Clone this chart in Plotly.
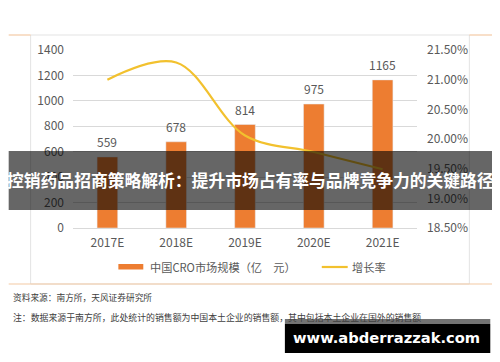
import plotly.graph_objects as go

categories = ["2017E", "2018E", "2019E", "2020E", "2021E"]
market_size = [559, 678, 814, 975, 1165]
growth_rate = [0.2100, 0.2129, 0.2006, 0.1978, 0.1949]
left_ticks = [0, 200, 400, 600, 800, 1000, 1200, 1400]
right_ticks = [0.185, 0.19, 0.195, 0.20, 0.205, 0.21, 0.215]

bar_name = "中国CRO市场规模（亿　元）"
line_name = "增长率"
title_text = "控销药品招商策略解析：提升市场占有率与品牌竞争力的关键路径"
source_text = "资料来源：南方所，天风证券研究所"
note_text = "注：数据来源于南方所，此处统计的销售额为中国本土企业的销售额，其中包括本土企业在国外的销售额"
watermark = "www.abderrazzak.com"

# page is rendered with an 8px body margin
OFF = 8
W, H = 500 - OFF, 362 - OFF
L, R, T, B = 72.5, 417.5, 50, 228   # plot area in page pixels
CJK = "Noto Sans CJK SC, Noto Sans, sans-serif"
ORANGE = "#ED7D31"
GOLD = "#F2C12E"
GRAY_TXT = "#595959"


def px(x):
    return (x - L) / (R - L)


def py(y):
    return (B - y) / (B - T)


fig = go.Figure()
fig.add_trace(go.Bar(x=categories, y=market_size, marker_color=ORANGE,
                     name=bar_name, showlegend=False))
fig.add_trace(go.Scatter(x=categories, y=growth_rate, yaxis="y2", mode="lines",
                         line=dict(color=GOLD, width=2.2, shape="spline", smoothing=1.0),
                         name=line_name, showlegend=False))

annotations = []
for c, v in zip(categories, market_size):
    annotations.append(dict(x=c, y=v, xref="x", yref="y", text=str(v), showarrow=False,
                            yanchor="bottom", yshift=5,
                            font=dict(family=CJK, size=12, color=GRAY_TXT)))

shapes = []
# frame
shapes.append(dict(type="rect", xref="paper", yref="paper", x0=px(30), x1=px(470), y0=py(35), y1=py(284),
                   line=dict(color="#E3E3E3", width=1), layer="below"))
for (x0, x1, y) in [(8, 30, 35), (470, 497, 35), (8, 497, 284)]:
    shapes.append(dict(type="line", xref="paper", yref="paper", x0=px(x0), x1=px(x1), y0=py(y), y1=py(y),
                       line=dict(color="#F3C9A4", width=1.2)))
# legend swatches
shapes.append(dict(type="rect", xref="paper", yref="paper", x0=px(118), x1=px(143), y0=py(264), y1=py(269.5),
                   fillcolor=ORANGE, line=dict(width=0)))
shapes.append(dict(type="line", xref="paper", yref="paper", x0=px(322), x1=px(348), y0=py(267), y1=py(267),
                   line=dict(color=GOLD, width=2.2)))
# title banner
shapes.append(dict(type="rect", xref="paper", yref="paper", x0=px(8), x1=px(497), y0=py(151), y1=py(210),
                   fillcolor="rgba(0,0,0,0.6)", line=dict(width=0), layer="above"))
# watermark box
shapes.append(dict(type="rect", xref="paper", yref="paper", x0=px(285), x1=px(491), y0=py(319), y1=py(324),
                   fillcolor="rgba(0,0,0,0.55)", line=dict(width=0), layer="above"))
shapes.append(dict(type="rect", xref="paper", yref="paper", x0=px(285), x1=px(491), y0=py(324), y1=py(353),
                   fillcolor="#000000", line=dict(width=0), layer="above"))

annotations += [
    dict(x=px(148), y=py(267), xref="paper", yref="paper", text=bar_name, showarrow=False,
         xanchor="left", yanchor="middle", font=dict(family=CJK, size=11.2, color=GRAY_TXT)),
    dict(x=px(350), y=py(267), xref="paper", yref="paper", text=line_name, showarrow=False,
         xanchor="left", yanchor="middle", font=dict(family=CJK, size=11.2, color=GRAY_TXT)),
    dict(x=px(10), y=py(297), xref="paper", yref="paper", text=source_text, showarrow=False,
         xanchor="left", yanchor="middle", font=dict(family=CJK, size=8.7, color="#404040")),
    dict(x=px(10), y=py(317), xref="paper", yref="paper", text=note_text, showarrow=False,
         xanchor="left", yanchor="middle", font=dict(family=CJK, size=8.9, color="#404040")),
    dict(x=px(251), y=py(180), xref="paper", yref="paper", text="<b>" + title_text + "</b>", showarrow=False,
         xanchor="center", yanchor="middle", font=dict(family=CJK, size=16.8, color="#FFFFFF")),
    dict(x=px(387), y=py(337), xref="paper", yref="paper", text="<b>" + watermark + "</b>", showarrow=False,
         xanchor="center", yanchor="middle", font=dict(family="DejaVu Sans, sans-serif", size=14.7, color="#FFFFFF")),
]

fig.update_layout(
    width=W, height=H,
    margin=dict(l=L - OFF, r=500 - R, t=T - OFF, b=362 - B, pad=0),
    paper_bgcolor="white", plot_bgcolor="white",
    bargap=0.7,
    showlegend=False,
    font=dict(family=CJK, size=12, color=GRAY_TXT),
    xaxis=dict(type="category", showgrid=False, showline=False, zeroline=False, ticks="",
               ticklabelstandoff=6, tickfont=dict(size=12, color=GRAY_TXT)),
    yaxis=dict(range=[0, 1400], tickvals=left_ticks, showgrid=True, gridcolor="#D9D9D9", gridwidth=1,
               zeroline=True, zerolinecolor="#D9D9D9", zerolinewidth=1, showline=False, ticks="",
               ticklabelstandoff=8, tickfont=dict(size=12, color=GRAY_TXT)),
    yaxis2=dict(range=[0.185, 0.215], tickvals=right_ticks, tickformat=".2%", overlaying="y", side="right",
                showgrid=False, zeroline=False, showline=False, ticks="",
                ticklabelstandoff=9, tickfont=dict(size=12, color=GRAY_TXT)),
    shapes=shapes,
    annotations=annotations,
)

fig.write_html("out.html")
